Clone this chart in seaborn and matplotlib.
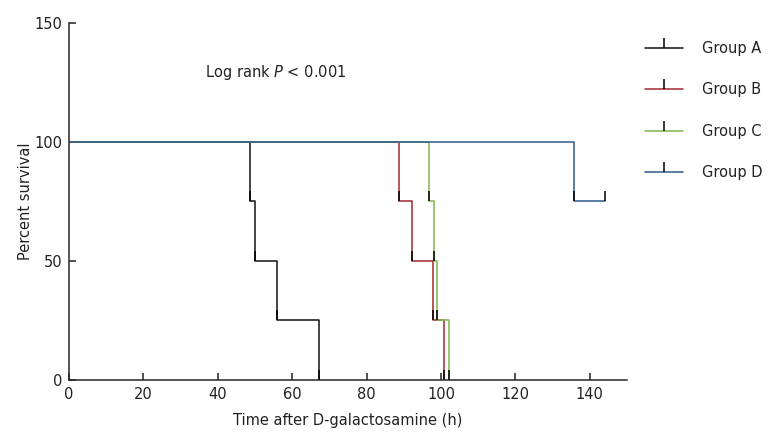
import numpy as np
import pandas as pd
import matplotlib
matplotlib.use('Agg')
import matplotlib.pyplot as plt
from matplotlib.lines import Line2D
import seaborn as sns

sns.set_style('ticks')
plt.rcParams['font.family'] = ['DejaVu Sans']

# step points (time in h, percent survival)
groups = ['Group A', 'Group B', 'Group C', 'Group D']
times_a = [0, 48.7, 50.0, 56.0, 67.2]
surv_a = [100, 75, 50, 25, 0]
times_b = [0, 88.8, 92.3, 97.9, 100.8]
surv_b = [100, 75, 50, 25, 0]
times_c = [0, 96.9, 98.1, 98.8, 102.2]
surv_c = [100, 75, 50, 25, 0]
times_d = [0, 135.8, 144.0]
surv_d = [100, 75, 75]
colors = ['#111111', '#a3282c', '#7fb84c', '#2d5a8c']

xticks = [0, 20, 40, 60, 80, 100, 120, 140]
yticks = [0, 50, 100, 150]

df = pd.concat([
    pd.DataFrame({'time': t, 'surv': s, 'group': g})
    for t, s, g in zip([times_a, times_b, times_c, times_d],
                       [surv_a, surv_b, surv_c, surv_d], groups)
], ignore_index=True)

fig = plt.figure(figsize=(7.78, 4.42), dpi=100)
ax = fig.add_axes([69/778, 1-380/442, 558/778, (380-22.7)/442])

sns.lineplot(data=df, x='time', y='surv', hue='group', hue_order=groups,
             palette=colors, estimator=None, sort=False, legend=False,
             drawstyle='steps-post', linewidth=1.1, ax=ax,
             marker=2, markersize=7.5, markevery=slice(1, None),
             markeredgecolor='black', markeredgewidth=1.1)

ax.set_xlim(0, 150)
ax.set_ylim(0, 150)
ax.set_xticks(xticks)
ax.set_yticks(yticks)
sns.despine(ax=ax)
ax.spines['left'].set_linewidth(1.1)
ax.spines['bottom'].set_linewidth(1.1)
ax.tick_params(direction='in', length=5, width=1.1, labelsize=10.5,
               colors='#222222', pad=5)
ax.set_xlabel('Time after D-galactosamine (h)', fontsize=10.5, color='#222222', labelpad=8)
ax.set_ylabel('Percent survival', fontsize=10.5, color='#222222', labelpad=1)

ax.text(36.5, 129, 'Log rank $P$ < 0.001', fontsize=10.5, color='#222222', va='center')

handles = [Line2D([0], [0], color=c, lw=1.1, marker=2, markersize=7.5,
                  markeredgecolor='black', markeredgewidth=1.1) for c in colors]
fig.legend(handles, groups, loc='upper left', bbox_to_anchor=(632/778, 1-28/442),
           frameon=False, fontsize=10.5, handlelength=2.6, handletextpad=1.3,
           labelspacing=1.8, numpoints=1, labelcolor='#222222')

fig.savefig('out.png', dpi=100)
